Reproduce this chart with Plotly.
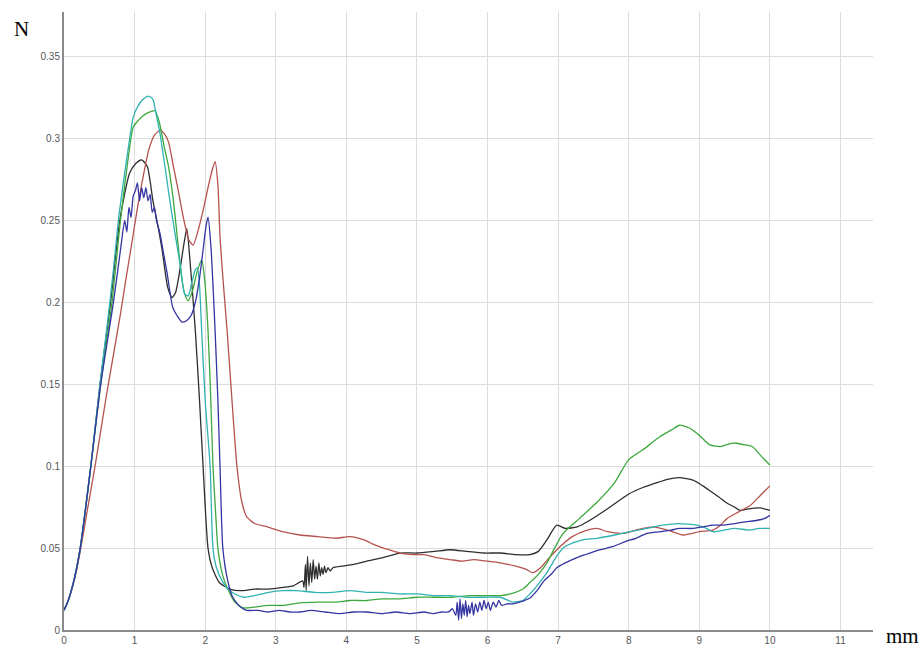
import plotly.graph_objects as go

# Force (N) versus displacement (mm) for five test specimens

black_x = [0, 0.06, 0.15, 0.23, 0.38, 0.51, 0.66, 0.79, 0.93, 1.02, 1.1, 1.18, 1.26, 1.33, 1.39, 1.47, 1.53,
           1.58, 1.65, 1.7, 1.74, 1.78, 1.86, 1.92, 1.97, 2.04, 2.1, 2.2, 2.35, 2.5, 2.7, 2.9, 3.1, 3.25, 3.38,
           3.40, 3.42, 3.43, 3.45, 3.47, 3.49, 3.51, 3.53, 3.55, 3.57, 3.59, 3.61, 3.63, 3.65, 3.67, 3.69, 3.71,
           3.74, 3.77, 3.81, 3.95, 4.1, 4.29, 4.5, 4.76, 5.0, 5.25, 5.47, 5.7, 5.95, 6.18, 6.4, 6.6, 6.72, 6.84,
           6.98, 7.1, 7.27, 7.45, 7.7, 8.0, 8.2, 8.4, 8.55, 8.72, 8.91, 9.05, 9.15, 9.28, 9.39, 9.5, 9.58, 9.7,
           9.86, 10.0]
black_y = [0.012, 0.018, 0.032, 0.05, 0.1, 0.15, 0.2, 0.25, 0.279, 0.285, 0.287, 0.283, 0.262, 0.247, 0.232,
           0.209, 0.203, 0.206, 0.222, 0.236, 0.245, 0.228, 0.183, 0.14, 0.1, 0.05, 0.038, 0.029, 0.025, 0.024,
           0.025, 0.025, 0.026, 0.027, 0.030,
           0.026, 0.040, 0.024, 0.045, 0.027, 0.041, 0.029, 0.043, 0.031, 0.039, 0.031, 0.041, 0.033, 0.038,
           0.034, 0.039, 0.035, 0.038, 0.036, 0.038, 0.039, 0.040, 0.042, 0.044, 0.047, 0.047, 0.048, 0.049,
           0.048, 0.047, 0.047, 0.046, 0.046, 0.048, 0.055, 0.064, 0.062, 0.063, 0.067, 0.074, 0.083, 0.087,
           0.09, 0.092, 0.093, 0.0915, 0.088, 0.085, 0.081, 0.0775, 0.075, 0.073, 0.074, 0.0745, 0.073]

red_x = [0, 0.06, 0.15, 0.23, 0.33, 0.44, 0.6, 0.7, 0.8, 0.88, 0.96, 1.03, 1.1, 1.2, 1.28, 1.36, 1.42, 1.48,
         1.55, 1.62, 1.69, 1.77, 1.83, 1.9, 1.97, 2.05, 2.1, 2.14, 2.18, 2.21, 2.26, 2.31, 2.38, 2.45, 2.52, 2.59,
         2.7, 2.88, 3.1, 3.34, 3.6, 3.85, 4.05, 4.25, 4.4, 4.6, 4.76, 4.95, 5.1, 5.3, 5.47, 5.65, 5.8, 6.0, 6.18,
         6.4, 6.55, 6.64, 6.75, 6.85, 7.03, 7.2, 7.41, 7.55, 7.7, 7.92, 8.1, 8.34, 8.55, 8.77, 9.0, 9.19, 9.3,
         9.39, 9.55, 9.72, 9.86, 10.0]
red_y = [0.012, 0.018, 0.031, 0.048, 0.073, 0.1, 0.143, 0.168, 0.193, 0.215, 0.236, 0.255, 0.272, 0.293, 0.302,
         0.305, 0.303, 0.298, 0.283, 0.268, 0.252, 0.238, 0.235, 0.244, 0.256, 0.272, 0.281, 0.286, 0.272, 0.24,
         0.21, 0.183, 0.14, 0.1, 0.078, 0.069, 0.065, 0.063, 0.06, 0.058, 0.057, 0.056, 0.057, 0.055, 0.052,
         0.049, 0.047, 0.046, 0.046, 0.044, 0.043, 0.042, 0.043, 0.042, 0.041, 0.039, 0.037, 0.035, 0.038,
         0.043, 0.051, 0.057, 0.061, 0.062, 0.06, 0.059, 0.061, 0.063, 0.061, 0.058, 0.06, 0.061, 0.064,
         0.068, 0.072, 0.076, 0.082, 0.088]

green_x = [0, 0.06, 0.15, 0.23, 0.38, 0.52, 0.68, 0.8, 0.9, 0.98, 1.05, 1.12, 1.2, 1.29, 1.35, 1.42, 1.48, 1.55,
           1.6, 1.67, 1.72, 1.76, 1.82, 1.88, 1.95, 1.99, 2.04, 2.08, 2.11, 2.15, 2.18, 2.25, 2.32, 2.42, 2.54,
           2.7, 2.9, 3.1, 3.34, 3.6, 3.85, 4.05, 4.29, 4.5, 4.75, 5.0, 5.23, 5.5, 5.75, 6.0, 6.18, 6.36, 6.5, 6.6,
           6.72, 6.84, 6.95, 7.07, 7.3, 7.55, 7.8, 8.0, 8.2, 8.44, 8.6, 8.72, 8.82, 8.91, 9.02, 9.15, 9.3, 9.45,
           9.53, 9.65, 9.75, 9.88, 10.0]
green_y = [0.012, 0.018, 0.032, 0.05, 0.1, 0.15, 0.2, 0.25, 0.285, 0.307, 0.311, 0.314, 0.316, 0.317, 0.31,
           0.295, 0.283, 0.262, 0.242, 0.214, 0.204, 0.201, 0.207, 0.218, 0.226, 0.215, 0.183, 0.14, 0.1, 0.07,
           0.05, 0.033, 0.025, 0.017, 0.0135, 0.014, 0.015, 0.015, 0.0165, 0.017, 0.017, 0.018, 0.018, 0.019,
           0.019, 0.02, 0.02, 0.02, 0.021, 0.021, 0.021, 0.0225, 0.025, 0.029, 0.034, 0.041, 0.05, 0.059, 0.068,
           0.078, 0.09, 0.104, 0.11, 0.118, 0.122, 0.125, 0.124, 0.122, 0.118, 0.113, 0.112, 0.114, 0.114,
           0.113, 0.112, 0.106, 0.1007]

cyan_x = [0, 0.06, 0.15, 0.23, 0.38, 0.51, 0.62, 0.7, 0.77, 0.85, 0.92, 0.98, 1.05, 1.12, 1.2, 1.26, 1.3, 1.36,
          1.43, 1.5, 1.58, 1.65, 1.71, 1.76, 1.81, 1.86, 1.89, 1.92, 1.95, 2.0, 2.07, 2.11, 2.16, 2.24, 2.32, 2.42,
          2.55, 2.7, 2.9, 3.1, 3.3, 3.55, 3.8, 4.05, 4.29, 4.5, 4.75, 5.0, 5.25, 5.47, 5.7, 5.95, 6.18, 6.36, 6.5,
          6.6, 6.72, 6.84, 6.95, 7.07, 7.2, 7.35, 7.55, 7.8, 8.02, 8.25, 8.48, 8.7, 8.97, 9.1, 9.19, 9.35, 9.5,
          9.7, 9.85, 10.0]
cyan_y = [0.012, 0.018, 0.032, 0.05, 0.1, 0.15, 0.189, 0.22, 0.25, 0.276, 0.297, 0.313, 0.32, 0.324, 0.326,
          0.324, 0.316, 0.303, 0.283, 0.262, 0.24, 0.222, 0.205, 0.204, 0.212, 0.22, 0.221, 0.21, 0.183, 0.14,
          0.1, 0.05, 0.038, 0.03, 0.025, 0.022, 0.02, 0.021, 0.023, 0.024, 0.024, 0.023, 0.023, 0.024, 0.023,
          0.023, 0.022, 0.022, 0.021, 0.021, 0.02, 0.02, 0.02, 0.017, 0.018, 0.022, 0.028, 0.035, 0.043, 0.05,
          0.053, 0.055, 0.056, 0.058, 0.06, 0.062, 0.064, 0.065, 0.064, 0.062, 0.06, 0.061, 0.062, 0.061,
          0.062, 0.062]

blue_x = [0, 0.06, 0.15, 0.23, 0.38, 0.52, 0.7, 0.8, 0.86, 0.89, 0.92, 0.95, 0.98, 1.01, 1.04, 1.07, 1.1, 1.13,
          1.16, 1.19, 1.22, 1.25, 1.28, 1.31, 1.36, 1.41, 1.46, 1.54, 1.6, 1.67, 1.74, 1.8, 1.86, 1.92, 1.97,
          2.01, 2.04, 2.08, 2.14, 2.18, 2.21, 2.25, 2.32, 2.39, 2.5, 2.59, 2.75, 2.9, 3.05, 3.2, 3.34, 3.5, 3.7,
          3.9, 4.1, 4.29, 4.5, 4.7, 4.9, 5.1, 5.23, 5.35, 5.45, 5.5, 5.55, 5.57, 5.59, 5.61, 5.63, 5.65, 5.67,
          5.69, 5.71, 5.73, 5.75, 5.78, 5.8, 5.83, 5.86, 5.89, 5.92, 5.95, 5.98, 6.01, 6.04, 6.08, 6.12, 6.16,
          6.2, 6.28, 6.36, 6.45, 6.52, 6.6, 6.7, 6.8, 6.9, 6.98, 7.1, 7.2, 7.31, 7.45, 7.6, 7.78, 7.95, 8.1,
          8.26, 8.45, 8.6, 8.72, 8.9, 9.05, 9.19, 9.35, 9.5, 9.65, 9.82, 9.92, 10.0]
blue_y = [0.012, 0.018, 0.032, 0.05, 0.1, 0.15, 0.2, 0.232, 0.25, 0.243, 0.258, 0.252, 0.265, 0.268, 0.273,
          0.262, 0.27, 0.264, 0.27, 0.262, 0.266, 0.255, 0.258, 0.25, 0.242, 0.23, 0.218, 0.197, 0.192, 0.188,
          0.189, 0.192, 0.2, 0.215, 0.232, 0.246, 0.252, 0.235, 0.183, 0.14, 0.1, 0.05, 0.03, 0.02, 0.014,
          0.012, 0.012, 0.011, 0.012, 0.011, 0.011, 0.012, 0.011, 0.01, 0.011, 0.011, 0.01, 0.011, 0.01, 0.011,
          0.01, 0.011, 0.011, 0.013, 0.009, 0.017, 0.006, 0.019, 0.007, 0.016, 0.009, 0.018, 0.008, 0.015,
          0.01, 0.017, 0.009, 0.016, 0.011, 0.017, 0.012, 0.018, 0.013, 0.017, 0.012, 0.017, 0.014, 0.018,
          0.015, 0.016, 0.016, 0.017, 0.018, 0.0195, 0.024, 0.03, 0.034, 0.038, 0.041, 0.043, 0.045, 0.047,
          0.049, 0.051, 0.054, 0.056, 0.059, 0.06, 0.061, 0.062, 0.062, 0.063, 0.064, 0.064, 0.065, 0.066,
          0.067, 0.068, 0.07]

x_ticks = list(range(0, 12))
y_ticks = [0, 0.05, 0.1, 0.15, 0.2, 0.25, 0.3, 0.35]

series = [
    (black_x, black_y, "#2e2e2e"),
    (red_x, red_y, "#b5524f"),
    (green_x, green_y, "#3ea83e"),
    (cyan_x, cyan_y, "#30b2b0"),
    (blue_x, blue_y, "#3434a2"),
]

fig = go.Figure()
for xs, ys, color in series:
    fig.add_trace(go.Scatter(x=xs, y=ys, mode="lines",
                             line=dict(color=color, width=1.3, shape="spline", smoothing=0.6),
                             showlegend=False))

tick_font = dict(family="Liberation Sans, Arial, sans-serif", size=10, color="#555555")
fig.update_layout(
    width=923, height=647,
    margin=dict(l=64, r=50, t=12, b=17),
    paper_bgcolor="white", plot_bgcolor="white",
    xaxis=dict(range=[0, 11.46], tickvals=x_ticks, ticks="", showline=True, linecolor="#8a8a8a",
               linewidth=2, showgrid=True, gridcolor="#dcdcdc", gridwidth=1, zeroline=False,
               tickfont=tick_font, automargin=False),
    yaxis=dict(range=[0, 0.3773], tickvals=y_ticks, ticks="", showline=True, linecolor="#8a8a8a",
               linewidth=2, showgrid=True, gridcolor="#dcdcdc", gridwidth=1, zeroline=False,
               tickfont=tick_font, automargin=False),
    annotations=[
        dict(text="N", xref="paper", yref="paper", x=-0.052, y=0.972, showarrow=False,
             xanchor="center", yanchor="middle",
             font=dict(family="Liberation Serif, Times New Roman, serif", size=21, color="black")),
        dict(text="mm", xref="paper", yref="paper", x=1.037, y=-0.01, showarrow=False,
             xanchor="center", yanchor="middle",
             font=dict(family="Liberation Serif, Times New Roman, serif", size=21, color="black")),
    ],
)

fig.write_html("out.html")
